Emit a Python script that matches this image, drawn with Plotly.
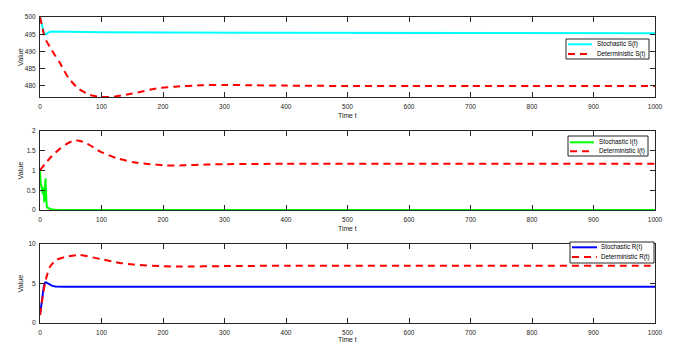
import plotly.graph_objects as go

# ---------------- data ----------------
x_ticks = [0, 100, 200, 300, 400, 500, 600, 700, 800, 900, 1000]

t_stoch_S = [0, 2, 4, 6, 8, 10, 13, 16, 20, 30, 60, 100, 200, 400, 600, 800, 1000]
stoch_S = [500, 498.5, 497.0, 495.8, 495.1, 495.0, 495.4, 495.7, 495.8, 495.8,
           495.7, 495.6, 495.5, 495.45, 495.4, 495.35, 495.3]

t_det_S = [0, 3, 6, 10, 16, 24, 33, 46, 62, 81, 100, 120, 150, 190, 220, 260, 300,
           350, 400, 500, 600, 700, 800, 900, 1000]
det_S = [500, 497.6, 495.2, 493.2, 491.3, 489.0, 486.5, 482.4, 479.3, 477.4, 476.8,
         476.9, 477.8, 479.3, 479.8, 480.2, 480.3, 480.2, 480.1, 480.0, 480.0,
         480.0, 480.0, 480.0, 480.0]

t_stoch_I = [0, 0.5, 1, 1.5, 2, 2.5, 3, 3.5, 4, 4.5, 5, 5.5, 6, 6.5, 7, 7.5, 8,
             8.5, 9, 9.5, 10, 11, 12, 13, 14, 16, 18, 20, 25, 30, 1000]
stoch_I = [1.0, 0.8, 0.68, 0.6, 0.65, 0.55, 0.6, 0.45, 0.58, 0.4, 0.55, 0.45,
           0.5, 0.35, 0.2, 0.45, 0.6, 0.7, 0.8, 0.55, 0.3, 0.08, 0.06, 0.05,
           0.04, 0.03, 0.02, 0.01, 0.005, 0.0, 0.0]

t_det_I = [0, 8, 16, 25, 33, 42, 52, 60, 67, 80, 98, 125, 152, 179, 206, 233, 270,
           303, 400, 500, 600, 700, 800, 900, 1000]
det_I = [1.0, 1.17, 1.31, 1.45, 1.56, 1.66, 1.74, 1.76, 1.74, 1.65, 1.48, 1.31,
         1.21, 1.16, 1.13, 1.13, 1.15, 1.16, 1.17, 1.17, 1.17, 1.17, 1.17, 1.17, 1.17]

t_stoch_R = [0, 2, 4, 6, 8, 10, 13, 16, 20, 25, 30, 40, 60, 100, 1000]
stoch_R = [1.0, 2.3, 3.5, 4.5, 5.1, 5.15, 5.0, 4.85, 4.7, 4.62, 4.6, 4.6, 4.6, 4.6, 4.6]

t_det_R = [0, 3, 8, 16, 27, 43, 65, 98, 130, 152, 195, 230, 300, 400, 500, 600,
           700, 800, 900, 1000]
det_R = [1.0, 2.6, 5.0, 7.1, 8.0, 8.4, 8.6, 8.1, 7.6, 7.4, 7.2, 7.15, 7.2, 7.25,
         7.25, 7.25, 7.25, 7.25, 7.25, 7.25]

y_ticks_S = [480, 485, 490, 495, 500]
y_ticks_I = [0, 0.5, 1, 1.5, 2]
y_tick_text_I = ["0", "0.5", "1", "1.5", "2"]
y_ticks_R = [0, 5, 10]

names = [("Stochastic S(t)", "Deterministic S(t)"),
         ("Stochastic I(t)", "Deterministic I(t)"),
         ("Stochastic R(t)", "Deterministic R(t)")]
stoch_colors = ["#00FFFF", "#00FF00", "#0000FF"]
det_color = "#FF0000"

# ---------------- layout helpers ----------------
PAGE_OFF = 8            # default body margin of the html page
W, H = 686 - 2 * PAGE_OFF, 351 - 2 * PAGE_OFF
FONT = "Liberation Sans, Arial, Helvetica, sans-serif"


def px(x):
    return (x - PAGE_OFF) / W


def py(y):
    return 1 - (y - PAGE_OFF) / H


# panel pixel boxes (top, bottom) in window pixels
panels = [(17, 97), (131, 210), (244, 323)]
x_left, x_right = 40, 655
DASH = "7px,5px"

fig = go.Figure()

series = [
    (t_stoch_S, stoch_S, t_det_S, det_S),
    (t_stoch_I, stoch_I, t_det_I, det_I),
    (t_stoch_R, stoch_R, t_det_R, det_R),
]

for i, (ts, ys, td, yd) in enumerate(series):
    xa = "x" if i == 0 else f"x{i+1}"
    ya = "y" if i == 0 else f"y{i+1}"
    fig.add_trace(go.Scatter(x=ts, y=ys, mode="lines", name=names[i][0],
                             line=dict(color=stoch_colors[i], width=2),
                             xaxis=xa, yaxis=ya, showlegend=False))
    fig.add_trace(go.Scatter(x=td, y=yd, mode="lines", name=names[i][1],
                             line=dict(color=det_color, width=2, dash=DASH,
                                       shape="spline", smoothing=0.6),
                             xaxis=xa, yaxis=ya, showlegend=False))

axis_common = dict(showgrid=False, zeroline=False, showline=True,
                   linecolor="#262626", linewidth=1, mirror="ticks",
                   ticks="inside", ticklen=5, tickcolor="#262626",
                   tickfont=dict(family=FONT, size=6.5, color="#1a1a1a"))

yranges = [[476.8, 500], [0, 2], [0, 10]]
yticks = [(y_ticks_S, [str(v) for v in y_ticks_S]),
          (y_ticks_I, y_tick_text_I),
          (y_ticks_R, [str(v) for v in y_ticks_R])]

layout = dict(
    width=W, height=H,
    margin=dict(l=0, r=0, t=0, b=0),
    paper_bgcolor="white", plot_bgcolor="white",
    showlegend=False,
    font=dict(family=FONT, color="#262626"),
)

annotations = []
shapes = []

for i, (top, bot) in enumerate(panels):
    sfx = "" if i == 0 else str(i + 1)
    layout["xaxis" + sfx] = dict(
        domain=[px(x_left), px(x_right)], range=[0, 1000],
        tickvals=x_ticks, ticktext=[str(v) for v in x_ticks],
        ticklabelstandoff=3,
        anchor="y" + sfx, automargin=False, **axis_common)
    layout["yaxis" + sfx] = dict(
        domain=[py(bot), py(top)], range=yranges[i],
        tickvals=yticks[i][0], ticktext=yticks[i][1],
        ticklabelstandoff=2,
        anchor="x" + sfx, automargin=False, **axis_common)
    # axis titles
    title_y = min(bot + 18.7, 339.0)
    annotations.append(dict(text="Time t", xref="paper", yref="paper",
                            x=px((x_left + x_right) / 2), y=py(title_y),
                            xanchor="center", yanchor="middle", showarrow=False,
                            font=dict(family=FONT, size=6.8, color="#1a1a1a")))
    annotations.append(dict(text="Value", xref="paper", yref="paper",
                            x=px(20), y=py((top + bot) / 2), textangle=-90,
                            xanchor="center", yanchor="middle", showarrow=False,
                            font=dict(family=FONT, size=7.2, color="#1a1a1a")))

# legend boxes (left, top, right, bottom) and line-sample / text positions
legend_boxes = [
    dict(box=(566, 39, 649, 59), line=(568, 592), text=595, rows=(44.3, 54.0)),
    dict(box=(568, 136, 648, 156), line=(570, 594), text=597, rows=(142.3, 151.3)),
    dict(box=(570, 242, 654, 263), line=(572, 597), text=599, rows=(247.3, 257.0)),
]

for i, lb in enumerate(legend_boxes):
    x0, y0, x1, y1 = lb["box"]
    shapes.append(dict(type="rect", xref="paper", yref="paper",
                       x0=px(x0), x1=px(x1), y0=py(y1), y1=py(y0),
                       fillcolor="white", line=dict(color="#262626", width=1),
                       layer="above"))
    colors = [stoch_colors[i], det_color]
    dashes = ["solid", DASH]
    for j in range(2):
        yy = lb["rows"][j]
        shapes.append(dict(type="line", xref="paper", yref="paper",
                           x0=px(lb["line"][0]), x1=px(lb["line"][1]),
                           y0=py(yy), y1=py(yy),
                           line=dict(color=colors[j], width=2, dash=dashes[j]),
                           layer="above"))
        annotations.append(dict(text=names[i][j], xref="paper", yref="paper",
                                x=px(lb["text"]), y=py(yy), xanchor="left",
                                yanchor="middle", showarrow=False,
                                font=dict(family=FONT, size=6.3, color="#000000")))

layout["annotations"] = annotations
layout["shapes"] = shapes
fig.update_layout(**layout)

fig.write_html("out.html")
